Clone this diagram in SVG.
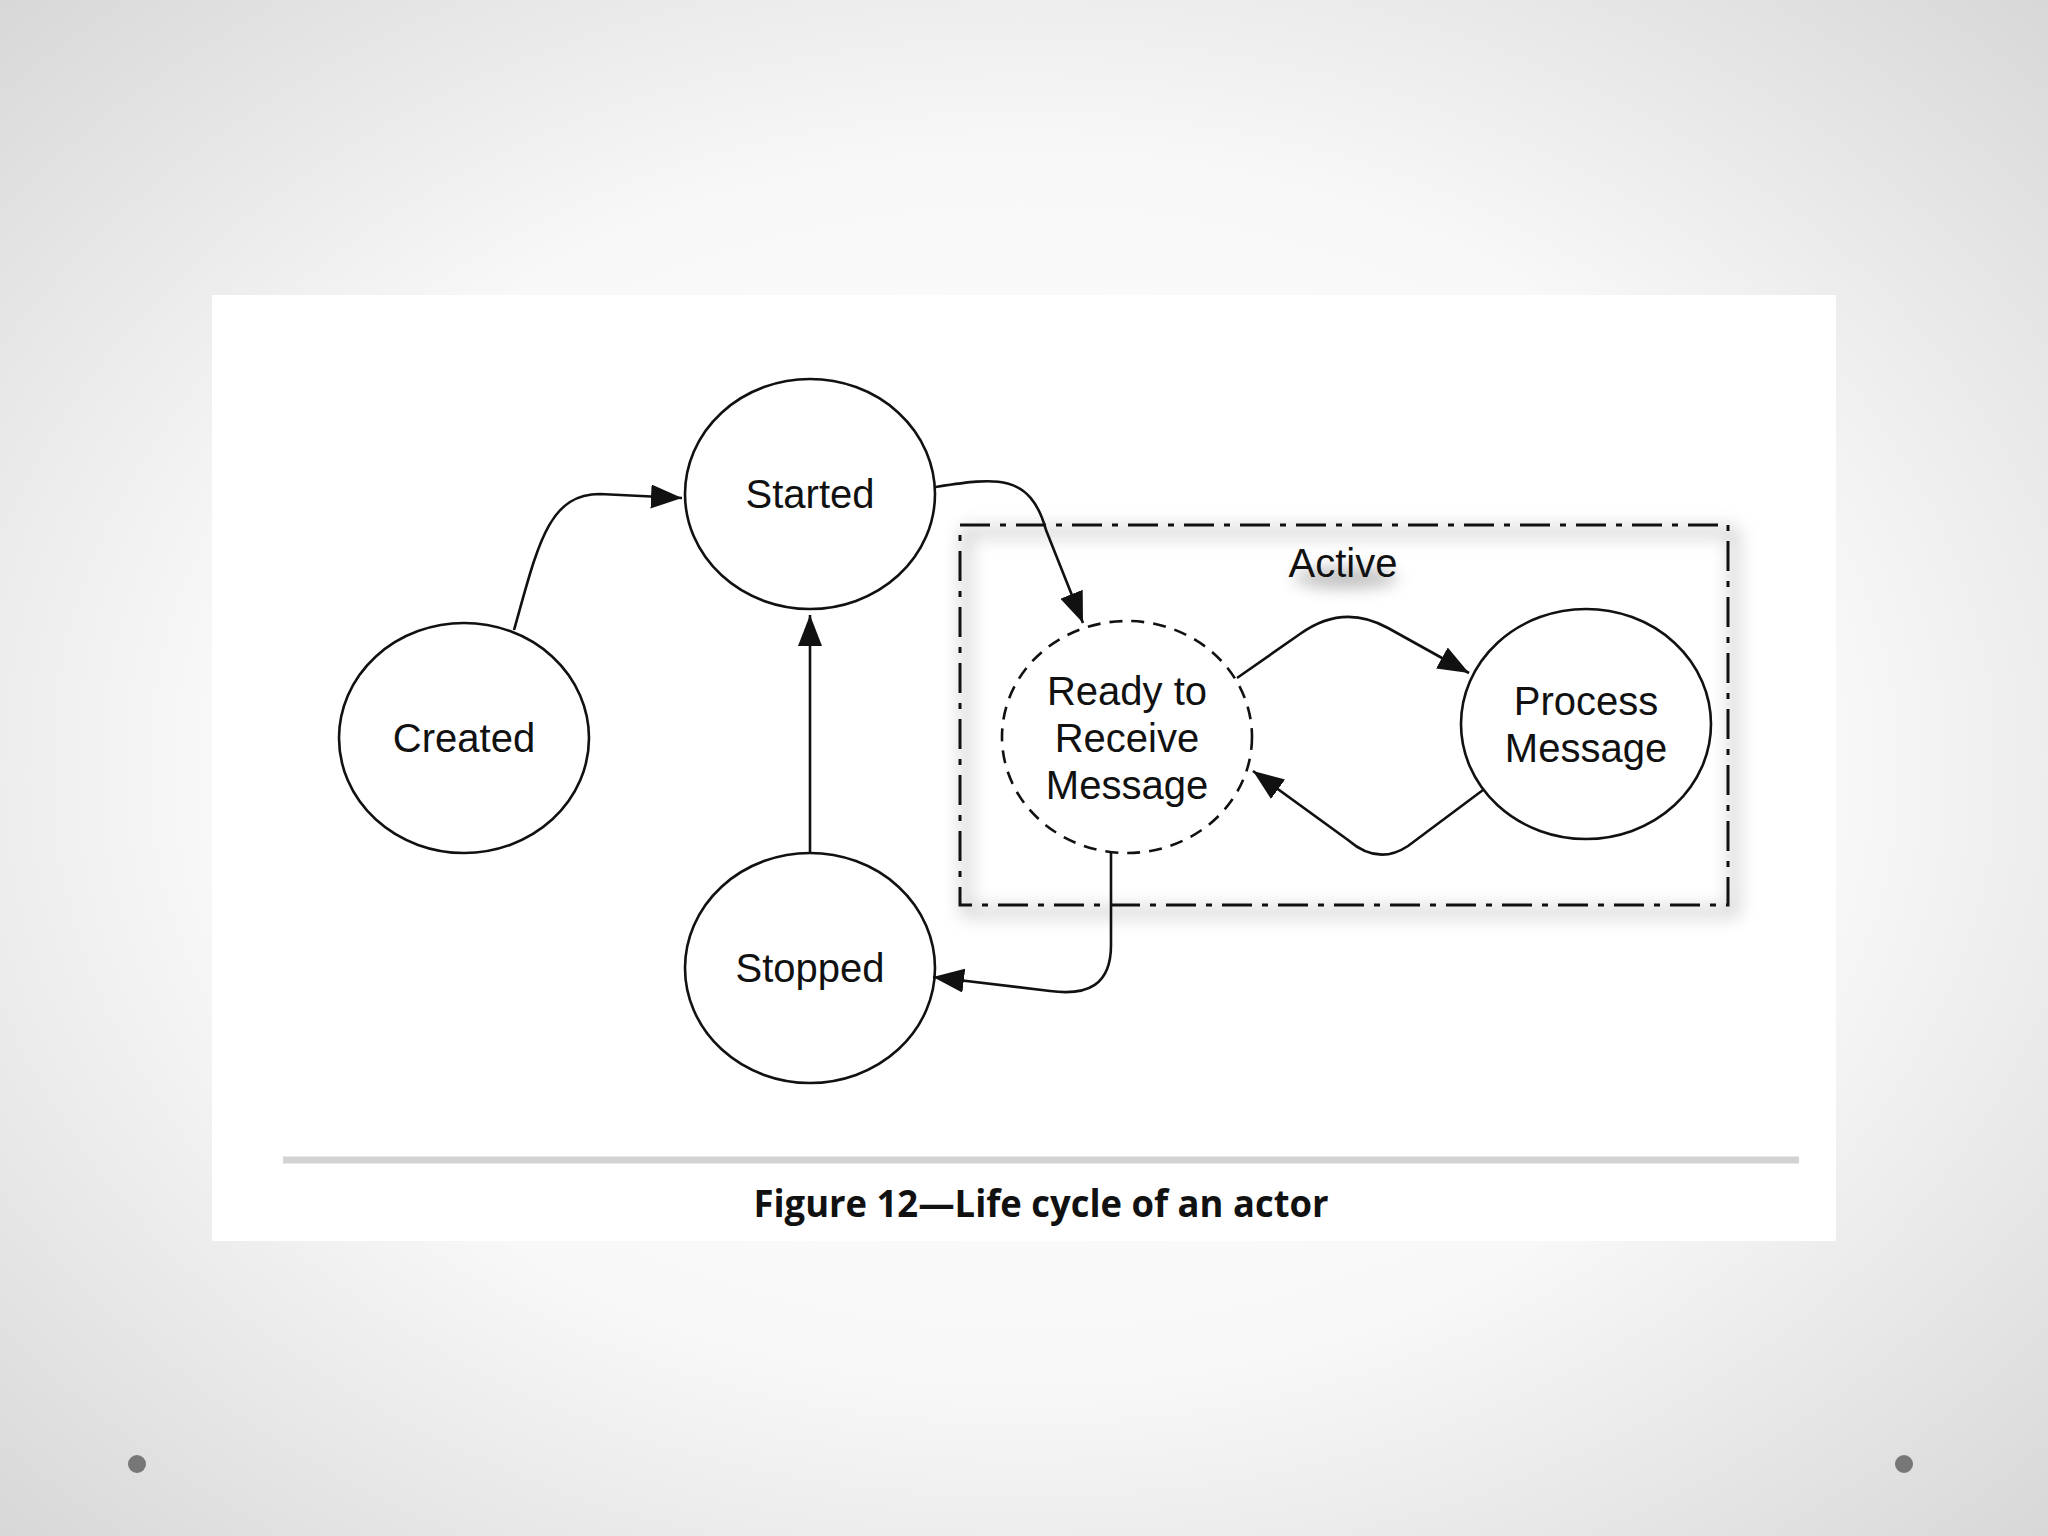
<svg xmlns="http://www.w3.org/2000/svg" width="2048" height="1536" viewBox="0 0 2048 1536">
<style>
.node{fill:#ffffff;stroke:#111;stroke-width:2.6}
.dashed{stroke-dasharray:13 9}
.lbl{font-family:"Liberation Sans",Arial,sans-serif;font-size:40px;fill:#111;text-anchor:middle}
.conn{fill:none;stroke:#111;stroke-width:2.6}
</style>
<defs>
<radialGradient id="bg" cx="50%" cy="50%" r="72%">
<stop offset="0" stop-color="#ffffff"/>
<stop offset="0.55" stop-color="#f8f8f8"/>
<stop offset="1" stop-color="#d6d6d6"/>
</radialGradient>
<marker id="arr" markerUnits="userSpaceOnUse" markerWidth="32" markerHeight="26" refX="31" refY="12" orient="auto">
<path d="M0,0 L31,12 L0,24 z" fill="#111"/>
</marker>
<filter id="blur" x="-20%" y="-20%" width="140%" height="140%">
<feGaussianBlur stdDeviation="9"/>
</filter>
<filter id="tblur" x="-50%" y="-100%" width="200%" height="300%">
<feGaussianBlur stdDeviation="8"/>
</filter>
</defs>
<rect x="0" y="0" width="2048" height="1536" fill="url(#bg)"/>
<rect x="212" y="295" width="1624" height="946" fill="#ffffff"/>

<g id="active">
<rect x="966" y="532" width="768" height="380" fill="none" stroke="#8a8a8a" stroke-width="8" opacity="0.5" filter="url(#blur)"/>
<rect x="960" y="525" width="768" height="380" fill="none" stroke="#111" stroke-width="3" stroke-dasharray="30 10 6 10"/>
<ellipse cx="1346" cy="578" rx="52" ry="10" fill="#888" opacity="0.55" filter="url(#tblur)"/>
<text x="1343" y="577" class="lbl">Active</text>
</g>

<g id="created">
<ellipse cx="464" cy="738" rx="125" ry="115" class="node"/>
<text x="464" y="752" class="lbl">Created</text>
</g>
<g id="started">
<ellipse cx="810" cy="494" rx="125" ry="115" class="node"/>
<text x="810" y="508" class="lbl">Started</text>
</g>
<g id="stopped">
<ellipse cx="810" cy="968" rx="125" ry="115" class="node"/>
<text x="810" y="982" class="lbl">Stopped</text>
</g>
<g id="ready">
<ellipse cx="1127" cy="737" rx="125" ry="116" class="node dashed"/>
<text x="1127" y="705" class="lbl">Ready to</text>
<text x="1127" y="752" class="lbl">Receive</text>
<text x="1127" y="799" class="lbl">Message</text>
</g>
<g id="process">
<ellipse cx="1586" cy="724" rx="125" ry="115" class="node"/>
<text x="1586" y="715" class="lbl">Process</text>
<text x="1586" y="762" class="lbl">Message</text>
</g>

<g id="connectors">
<path class="conn" d="M514,630 C538,545 548,494 600,494 L682,498" marker-end="url(#arr)"/>
<path class="conn" d="M935,487 C995,478 1030,472 1046,530 L1083,623" marker-end="url(#arr)"/>
<path class="conn" d="M810,853 L810,615" marker-end="url(#arr)"/>
<path class="conn" d="M1111,851 L1111,945 C1111,985 1088,996 1050,991 L933,977" marker-end="url(#arr)"/>
<path class="conn" d="M1237,678 L1300,634 Q1343,603 1388,628 L1469,673" marker-end="url(#arr)"/>
<path class="conn" d="M1483,790 L1408,846 Q1378,866 1348,840 L1253,771" marker-end="url(#arr)"/>
</g>

<line x1="283" y1="1160" x2="1799" y2="1160" stroke="#d2d2d2" stroke-width="7"/>
<text x="1041" y="1217" font-family="'Open Sans','Noto Sans',sans-serif" font-weight="700" font-size="37" fill="#111" text-anchor="middle" textLength="575" lengthAdjust="spacingAndGlyphs">Figure 12—Life cycle of an actor</text>

<circle cx="137" cy="1464" r="9" fill="#777"/>
<circle cx="1904" cy="1464" r="9" fill="#777"/>
</svg>
